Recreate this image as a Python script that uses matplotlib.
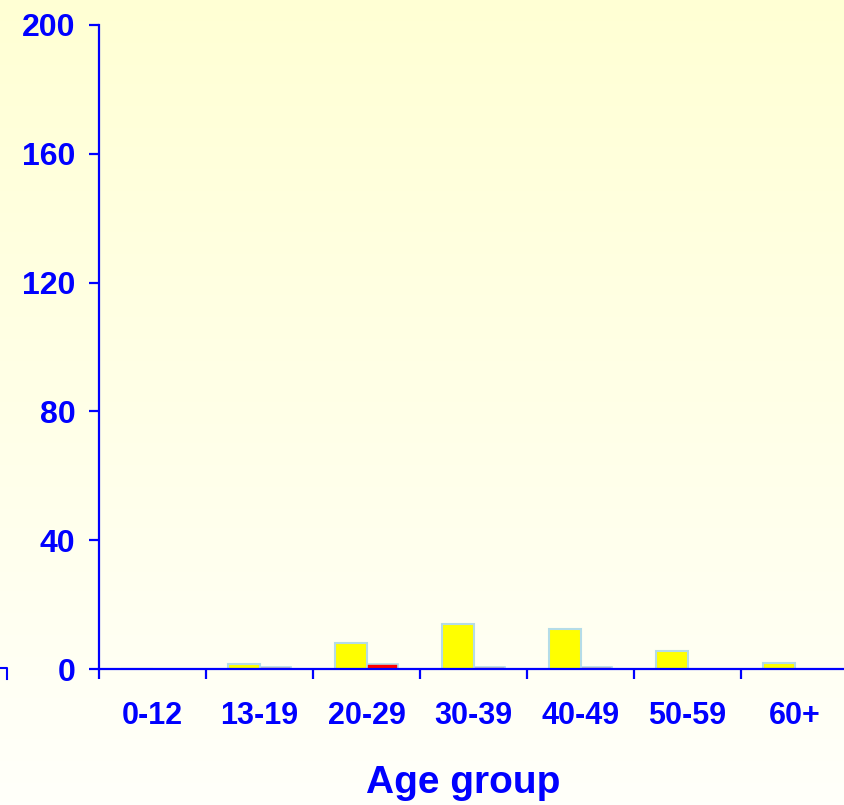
import numpy as np
import matplotlib
matplotlib.use('Agg')
from matplotlib import pyplot as plt
from matplotlib.colors import LinearSegmentedColormap
from matplotlib.lines import Line2D

plt.rcParams['font.family'] = ['Liberation Sans', 'DejaVu Sans']

groups = ['0-12', '13-19', '20-29', '30-39', '40-49', '50-59', '60+']
yellow_vals = [0, 1.5, 8, 14, 12.5, 5.5, 2]
red_vals = [0, 0.6, 1.5, 0.6, 0.6, 0, 0]
yticks = [0, 40, 80, 120, 160, 200]

blue = '#0000ff'
edge = '#b4dce8'

fig = plt.figure(figsize=(8.45, 8.05), dpi=100)

# background gradient (yellowish top -> near white bottom)
bg = fig.add_axes([0, 0, 1, 1], zorder=-10)
grad_cmap = LinearSegmentedColormap.from_list('bg', ['#fffffa', '#ffffd4'])
bg.imshow(np.linspace(0, 1, 256).reshape(-1, 1), cmap=grad_cmap, aspect='auto',
          origin='lower', extent=[0, 1, 0, 1])
bg.axis('off')

ax = fig.add_axes([99 / 845, 136 / 805, 749 / 845, 644 / 805])
ax.patch.set_alpha(0)

x = np.arange(len(groups)) + 0.5
w = 0.29
ax.bar(x - 0.145, yellow_vals, w, color='#ffff00', edgecolor=edge, linewidth=1.5)
ax.bar(x + 0.145, red_vals, w, color='#ff0000', edgecolor=edge, linewidth=1.2)

ax.set_xlim(0, len(groups))
ax.set_ylim(0, 200)
ax.set_yticks(yticks)
ax.set_xticks(np.arange(len(groups) + 1))
ax.set_xticklabels([])
ax.set_xticks(x, minor=True)
ax.set_xticklabels(groups, minor=True)

for s in ['top', 'right']:
    ax.spines[s].set_visible(False)
for s in ['left', 'bottom']:
    ax.spines[s].set_color(blue)
    ax.spines[s].set_linewidth(1.6)

ax.tick_params(axis='y', colors=blue, length=7, width=1.6, pad=10, labelsize=23)
ax.tick_params(axis='x', which='major', colors=blue, length=7.5, width=1.6)
ax.tick_params(axis='x', which='minor', length=0, pad=23, labelsize=22, labelcolor=blue)
for lab in ax.get_yticklabels() + ax.get_xticklabels(minor=True):
    lab.set_fontweight('bold')

fig.text(463 / 845, 1 - 783 / 805, 'Age group', ha='center', va='center',
         fontsize=28, fontweight='bold', color=blue)

# small stray mark at the lower-left edge
fig.add_artist(Line2D([0, 7 / 845, 7 / 845], [1 - 668 / 805, 1 - 668 / 805, 1 - 679 / 805],
                      color=blue, linewidth=1.5))

plt.savefig('out.png', dpi=100)
